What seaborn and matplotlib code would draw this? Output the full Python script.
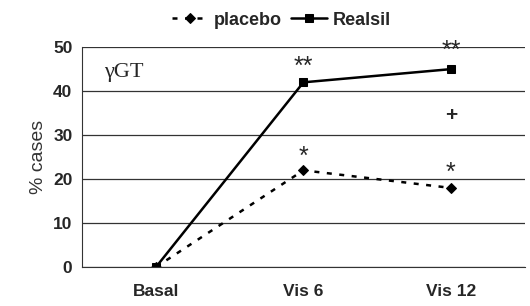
import pandas as pd
import seaborn as sns
import matplotlib.pyplot as plt

visits = ["Basal", "Vis 6", "Vis 12"]
placebo = [0, 22, 18]
realsil = [0, 42, 45]

df = pd.DataFrame({
    "visit": visits * 2,
    "pct": placebo + realsil,
    "group": ["placebo"] * 3 + ["Realsil"] * 3,
})

sns.set_style("white")
plt.rcParams['font.family'] = ['Liberation Sans', 'DejaVu Sans']

fig = plt.figure(figsize=(5.3, 3.06), dpi=100)
ax = fig.add_axes([0.155, 0.127, 0.835, 0.719])

sns.lineplot(data=df[df.group == "placebo"], x="visit", y="pct", ax=ax,
             color="black", lw=1.8, linestyle=(0, (2, 3)), marker="D",
             markersize=5, markeredgecolor="black", label="placebo", sort=False)
sns.lineplot(data=df[df.group == "Realsil"], x="visit", y="pct", ax=ax,
             color="black", lw=1.8, marker="s", markersize=6,
             markeredgecolor="black", label="Realsil", sort=False)

ax.set_xlim(-0.5, 2.5)
ax.set_ylim(0, 50)
ax.set_yticks([0, 10, 20, 30, 40, 50])
ax.set_yticklabels([0, 10, 20, 30, 40, 50], fontweight="heavy", fontsize=12.5)
ax.yaxis.grid(True, color="#333333", lw=0.9)
ax.set_xticks([-0.5, 0.5, 1.5, 2.5])
ax.set_xticklabels([])
ax.set_xticks([0, 1, 2], minor=True)
ax.set_xticklabels(visits, minor=True, fontweight="heavy", fontsize=12.5)
ax.tick_params(axis="x", which="major", direction="out", length=5, width=1, color="#333333")
ax.tick_params(axis="x", which="minor", length=0, pad=12)
ax.tick_params(axis="y", direction="out", length=5, width=1, color="#333333", pad=2)
ax.set_xlabel("")
ax.set_ylabel("% cases", fontsize=14, color="#333333", labelpad=4)
for s in ["top", "right"]:
    ax.spines[s].set_visible(False)
ax.spines["left"].set_color("#333333")
ax.spines["bottom"].set_color("#333333")

ax.text(0.05, 0.93, "γGT", transform=ax.transAxes, fontsize=16,
        family="Liberation Serif", va="top")
ax.text(1, 45.5, "**", ha="center", va="center", fontsize=18)
ax.text(2, 49.2, "**", ha="center", va="center", fontsize=18)
ax.text(2, 34.5, "+", ha="center", va="center", fontsize=15, fontweight="bold")
ax.text(1, 25, "*", ha="center", va="center", fontsize=18)
ax.text(2, 21.5, "*", ha="center", va="center", fontsize=18)

ax.legend(loc="lower center", bbox_to_anchor=(0.45, 1.01), ncol=2, frameon=False,
          prop={"weight": "heavy", "size": 13}, handlelength=2.0, columnspacing=0.5,
          handletextpad=0.3)

fig.savefig("out.png", dpi=100)
